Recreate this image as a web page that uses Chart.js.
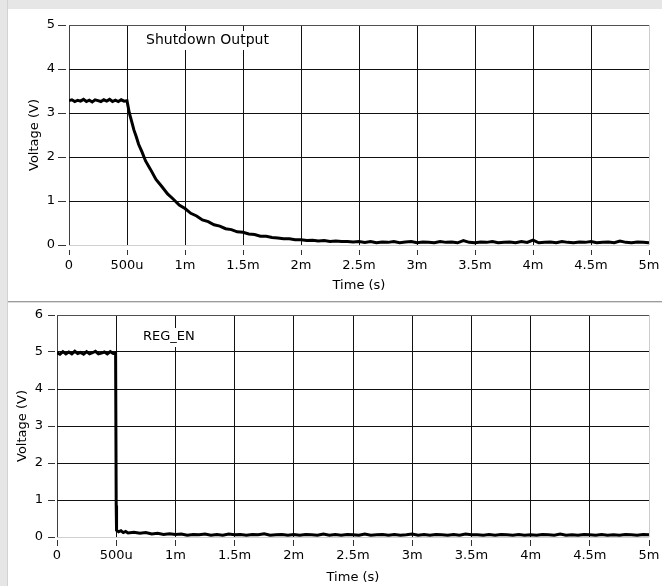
<!DOCTYPE html>
<html><head><meta charset="utf-8">
<script src="https://cdn.jsdelivr.net/npm/chart.js@4.4.1/dist/chart.umd.min.js"></script>
<style>
html,body{margin:0;padding:0;background:#fff;}
body{width:662px;height:586px;position:relative;overflow:hidden;}
#stripTop{position:absolute;left:0;top:0;width:662px;height:9px;background:#e6e6e6;}
#stripLeft{position:absolute;left:0;top:0;width:7px;height:586px;background:#e6e6e6;border-right:1px solid #d2d2d2;}
#sep{position:absolute;left:8px;top:301px;width:654px;height:1px;background:#9c9c9c;box-shadow:0 1px 0 #dcdcdc;}
#c1{position:absolute;left:0;top:0;}
#c2{position:absolute;left:0;top:302px;}
</style>
</head><body>
<div id="stripTop"></div><div id="stripLeft"></div><div id="sep"></div>
<canvas id="c1" width="662" height="300"></canvas>
<canvas id="c2" width="662" height="284"></canvas>
<script>
// ---- data (time in ms, voltage in V) ----
const xTickValues = [0,0.5,1,1.5,2,2.5,3,3.5,4,4.5,5];
const xTickLabels = ['0','500u','1m','1.5m','2m','2.5m','3m','3.5m','4m','4.5m','5m'];

const shutdownTime = [
 0,0.025,0.05,0.075,0.1,0.125,0.15,0.175,0.2,0.225,0.25,0.275,0.3,0.325,0.35,0.375,0.4,0.425,0.45,0.475,0.5,
 0.52,0.54,0.56,0.58,0.6,0.63,0.66,
 0.7,0.75,0.8,0.85,0.9,0.95,1.0,1.05,1.1,1.15,1.2,1.25,1.3,1.35,1.4,1.45,1.5,1.55,1.6,1.65,1.7,1.75,1.8,1.85,1.9,1.95,2.0,2.05,2.1,2.15,2.2,2.25,2.3,2.35,2.4,2.45,2.5,
 2.55,2.6,2.65,2.7,2.75,2.8,2.85,2.9,2.95,3.0,3.05,3.1,3.15,3.2,3.25,3.3,3.35,3.4,3.45,3.5,
 3.55,3.6,3.65,3.7,3.75,3.8,3.85,3.9,3.95,4.0,4.05,4.1,4.15,4.2,4.25,4.3,4.35,4.4,4.45,4.5,
 4.55,4.6,4.65,4.7,4.75,4.8,4.85,4.9,4.95,5.0
];
const shutdownVolts = [
 3.28,3.30,3.26,3.29,3.27,3.31,3.26,3.29,3.25,3.30,3.28,3.26,3.30,3.27,3.31,3.26,3.29,3.26,3.30,3.27,3.28,
 3.00,2.81,2.61,2.46,2.29,2.11,1.91,
 1.73,1.49,1.33,1.16,1.04,0.91,0.83,0.72,0.66,0.57,0.53,0.46,0.43,0.37,0.35,0.30,0.29,0.25,0.24,0.20,0.20,0.17,0.16,0.14,0.14,0.12,0.12,0.10,0.11,0.09,0.10,0.08,0.09,0.08,0.08,0.07,0.08,
 0.06,0.08,0.05,0.07,0.06,0.08,0.05,0.07,0.08,0.05,0.07,0.06,0.05,0.08,0.06,0.07,0.05,0.10,0.06,0.05,
 0.07,0.06,0.08,0.05,0.06,0.07,0.05,0.08,0.06,0.11,0.05,0.06,0.07,0.05,0.08,0.06,0.05,0.07,0.06,0.08,
 0.05,0.06,0.07,0.05,0.09,0.06,0.05,0.07,0.06,0.05
];

const regEnTime = [
 0,0.025,0.05,0.075,0.1,0.125,0.15,0.175,0.2,0.225,0.25,0.275,0.3,0.325,0.35,0.375,0.4,0.425,0.45,0.475,0.495,
 0.5,0.503,0.52,0.54,0.56,0.58,0.6,0.65,0.7,0.75,0.8,0.85,0.9,0.95,1.0,
 1.05,1.1,1.15,1.2,1.25,1.3,1.35,1.4,1.45,1.5,1.55,1.6,1.65,1.7,1.75,1.8,1.85,1.9,1.95,2.0,
 2.05,2.1,2.15,2.2,2.25,2.3,2.35,2.4,2.45,2.5,2.55,2.6,2.65,2.7,2.75,2.8,2.85,2.9,2.95,3.0,
 3.05,3.1,3.15,3.2,3.25,3.3,3.35,3.4,3.45,3.5,3.55,3.6,3.65,3.7,3.75,3.8,3.85,3.9,3.95,4.0,
 4.05,4.1,4.15,4.2,4.25,4.3,4.35,4.4,4.45,4.5,4.55,4.6,4.65,4.7,4.75,4.8,4.85,4.9,4.95,5.0
];
const regEnVolts = [
 4.98,4.94,5.01,4.95,5.00,4.95,5.02,4.96,4.99,4.94,5.01,4.95,4.98,5.02,4.95,4.97,5.00,4.95,5.01,4.96,4.97,
 0.85,0.18,0.14,0.17,0.12,0.15,0.11,0.13,0.10,0.12,0.08,0.10,0.07,0.09,0.07,
 0.08,0.05,0.07,0.06,0.08,0.05,0.07,0.05,0.08,0.06,0.07,0.05,0.07,0.06,0.09,0.05,0.06,0.07,0.05,0.07,
 0.05,0.07,0.06,0.05,0.08,0.05,0.07,0.05,0.07,0.06,0.05,0.08,0.05,0.06,0.07,0.05,0.07,0.05,0.06,0.08,
 0.05,0.07,0.05,0.07,0.06,0.05,0.07,0.05,0.08,0.06,0.06,0.05,0.07,0.05,0.07,0.06,0.05,0.07,0.05,0.06,
 0.05,0.07,0.06,0.05,0.08,0.05,0.06,0.05,0.07,0.06,0.05,0.07,0.05,0.06,0.05,0.07,0.06,0.05,0.07,0.06
];

// ---- rendering ----
const FONT = {family: '"DejaVu Sans", sans-serif', size: 13};

const labelPlugin = {
  id: 'plotLabel',
  afterDatasetsDraw(chart, args, opts) {
    const {ctx, chartArea} = chart;
    ctx.save();
    ctx.font = opts.size + 'px "DejaVu Sans", sans-serif';
    const w = ctx.measureText(opts.text).width;
    const x = chartArea.left + opts.dx, y = chartArea.top + opts.dy;
    ctx.fillStyle = '#fff';
    ctx.fillRect(x - 2, y - 9, w + 4, 19);
    ctx.fillStyle = '#000';
    ctx.textBaseline = 'middle';
    ctx.fillText(opts.text, x, y);
    ctx.restore();
  }
};

function makeChart(id, times, volts, c) {
  const pts = times.map((t, i) => ({x: t, y: volts[i]}));
  return new Chart(document.getElementById(id), {
    type: 'line',
    data: {datasets: [{data: pts, borderColor: '#000', borderWidth: 3, pointRadius: 0, tension: 0, fill: false, borderJoinStyle: 'miter'}]},
    options: {
      responsive: false, animation: false, events: [],
      layout: {padding: {top: c.padTop, right: 13, left: 0, bottom: 0}},
      plugins: {legend: {display: false}, tooltip: {enabled: false},
        plotLabel: {text: c.label, dx: c.labelDx, dy: c.labelDy, size: c.labelSize}},
      scales: {
        x: {
          type: 'linear', min: 0, max: 5,
          afterBuildTicks: ax => { ax.ticks = xTickValues.map(v => ({value: v})); },
          ticks: {callback: (v, i) => xTickLabels[i], font: FONT, color: '#000', padding: c.xPad, maxRotation: 0, autoSkip: false},
          grid: {
            color: ctx => { const v = ctx.tick ? ctx.tick.value : null; return v === 0 ? '#404040' : (v === 5 ? '#cccccc' : '#111'); },
            lineWidth: 1, tickLength: c.xTL, tickColor: '#333', tickWidth: 1,
            tickBorderDash: c.xDash, tickBorderDashOffset: c.xDash[0]
          },
          border: {display: false},
          title: {display: true, text: 'Time (s)', font: FONT, color: '#000', padding: {top: 0, bottom: c.xTitlePad}},
          afterFit: ax => { ax.height = c.xH; ax.paddingLeft = 0; ax.paddingRight = 0; }
        },
        y: {
          type: 'linear', min: 0, max: c.yMax,
          ticks: {stepSize: 1, font: FONT, color: '#000', padding: c.yPad},
          grid: {
            color: ctx => { const v = ctx.tick ? ctx.tick.value : null; return v === 0 ? '#d0d0d0' : (v === c.yMax ? '#505050' : '#111'); },
            lineWidth: 1, tickLength: c.yTL, tickColor: '#333', tickWidth: 1,
            tickBorderDash: c.yDash
          },
          border: {display: false},
          title: {display: true, text: 'Voltage (V)', font: FONT, color: '#000', padding: {top: c.yTitlePad, bottom: 0}},
          afterFit: ax => { ax.width = c.yW; ax.paddingTop = 0; ax.paddingBottom = 0; }
        }
      }
    },
    plugins: [labelPlugin]
  });
}

makeChart('c1', shutdownTime, shutdownVolts, {
  padTop: 25, xH: 55, yW: 69, yMax: 5,
  xTL: 10, xDash: [5, 5], xPad: 3, xTitlePad: 7,
  yTL: 11, yDash: [8, 3], yPad: 3, yTitlePad: 27,
  label: 'Shutdown Output', labelDx: 77, labelDy: 15, labelSize: 14
});
makeChart('c2', regEnTime, regEnVolts, {
  padTop: 13, xH: 49, yW: 57, yMax: 6,
  xTL: 9, xDash: [6, 3], xPad: 2, xTitlePad: 1,
  yTL: 9, yDash: [7, 2], yPad: 5, yTitlePad: 15,
  label: 'REG_EN', labelDx: 86, labelDy: 22, labelSize: 13
});
</script>
</body></html>
